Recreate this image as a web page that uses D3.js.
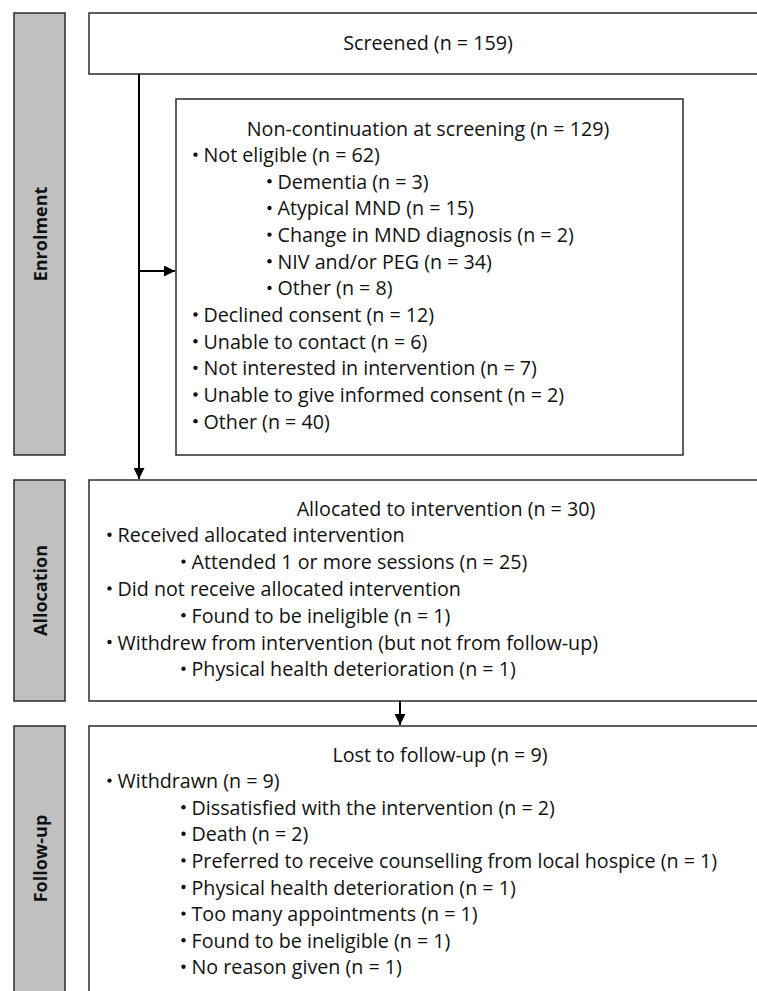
<!DOCTYPE html>
<html>
<head>
<meta charset="utf-8">
<script src="https://cdn.jsdelivr.net/npm/d3@7"></script>
<style>
  body { margin: 0; background: #fff; }
  svg { display: block; }
  text { font-family: "Open Sans", Lato, sans-serif; fill: #111; }
</style>
</head>
<body>
<script>
// stage labels on the left
const stages = ['Enrolment', 'Allocation', 'Follow-up'];

const screenedText = 'Screened (n = 159)';

const exclusionHeader = 'Non-continuation at screening (n = 129)';
const exclusionItems = [
    'Not eligible (n = 62)',
    'Dementia (n = 3)',
    'Atypical MND (n = 15)',
    'Change in MND diagnosis (n = 2)',
    'NIV and/or PEG (n = 34)',
    'Other (n = 8)',
    'Declined consent (n = 12)',
    'Unable to contact (n = 6)',
    'Not interested in intervention (n = 7)',
    'Unable to give informed consent (n = 2)',
    'Other (n = 40)'
];
const exclusionLevels = [1, 2, 2, 2, 2, 2, 1, 1, 1, 1, 1];

const allocationHeader = 'Allocated to intervention (n = 30)';
const allocationItems = [
    'Received allocated intervention',
    'Attended 1 or more sessions (n = 25)',
    'Did not receive allocated intervention',
    'Found to be ineligible (n = 1)',
    'Withdrew from intervention (but not from follow-up)',
    'Physical health deterioration (n = 1)'
];
const allocationLevels = [1, 2, 1, 2, 1, 2];

const followupHeader = 'Lost to follow-up (n = 9)';
const followupItems = [
    'Withdrawn (n = 9)',
    'Dissatisfied with the intervention (n = 2)',
    'Death (n = 2)',
    'Preferred to receive counselling from local hospice (n = 1)',
    'Physical health deterioration (n = 1)',
    'Too many appointments (n = 1)',
    'Found to be ineligible (n = 1)',
    'No reason given (n = 1)'
];
const followupLevels = [1, 2, 2, 2, 2, 2, 2, 2];

const width = 757;
const height = 991;
const fontSize = 19.7;

const svg = d3.select('body')
    .append('svg')
    .attr('width', width)
    .attr('height', height);

svg.append('defs')
    .append('marker')
    .attr('id', 'arrow')
    .attr('viewBox', '0 0 10 10')
    .attr('refX', 10)
    .attr('refY', 5)
    .attr('markerWidth', 5.5)
    .attr('markerHeight', 5.5)
    .attr('markerUnits', 'strokeWidth')
    .attr('orient', 'auto')
    .append('path')
    .attr('d', 'M0,0 L10,5 L0,10 Z')
    .attr('fill', '#000');

// side bars
const bars = [
    { y0: 13, y1: 455 },
    { y0: 480, y1: 701 },
    { y0: 726, y1: 1010 }
];

svg.selectAll('rect.stage')
    .data(stages)
    .enter()
    .append('rect')
    .attr('class', 'stage')
    .attr('x', 14)
    .attr('y', (d, i) => bars[i].y0)
    .attr('width', 51)
    .attr('height', (d, i) => bars[i].y1 - bars[i].y0)
    .attr('fill', '#c0c0c0')
    .attr('stroke', '#2b2b2b')
    .attr('stroke-width', 1.5);

svg.selectAll('text.stage')
    .data(stages)
    .enter()
    .append('text')
    .attr('class', 'stage')
    .attr('transform', (d, i) => `translate(40, ${(bars[i].y0 + Math.min(bars[i].y1, 991)) / 2}) rotate(-90)`)
    .attr('text-anchor', 'middle')
    .attr('dominant-baseline', 'central')
    .style('font-weight', 'bold')
    .style('font-size', '18px')
    .text(d => d);

// boxes
function box(x, y, w, h) {
    svg.append('rect')
        .attr('x', x)
        .attr('y', y)
        .attr('width', w)
        .attr('height', h)
        .attr('fill', '#fff')
        .attr('stroke', '#2b2b2b')
        .attr('stroke-width', 1.5);
}

box(89, 13, 760, 61);
box(176, 99, 507, 356);
box(89, 480, 760, 221);
box(89, 726, 760, 300);

// arrows
function arrow(x1, y1, x2, y2) {
    svg.append('line')
        .attr('x1', x1).attr('y1', y1)
        .attr('x2', x2).attr('y2', y2)
        .attr('stroke', '#000')
        .attr('stroke-width', 2)
        .attr('marker-end', 'url(#arrow)');
}

arrow(139, 74, 139, 479);
arrow(139, 271, 175, 271);
arrow(400, 701, 400, 725);

// text blocks
function block(header, cx, hy, items, levels, x1, x2, step) {
    const y = d3.scaleLinear().domain([0, 1]).range([hy, hy + step]);
    const g = svg.append('g').style('font-size', fontSize + 'px');

    g.append('text')
        .attr('x', cx)
        .attr('y', y(0))
        .attr('text-anchor', 'middle')
        .attr('dominant-baseline', 'central')
        .text(header);

    const rows = g.selectAll('g.row')
        .data(items)
        .enter()
        .append('g')
        .attr('class', 'row')
        .attr('transform', (d, i) => `translate(${levels[i] === 1 ? x1 : x2}, ${y(i + 1)})`);

    rows.append('circle')
        .attr('cx', 2.5)
        .attr('cy', 0)
        .attr('r', 2.2)
        .attr('fill', '#111');

    rows.append('text')
        .attr('x', 10.5)
        .attr('dominant-baseline', 'central')
        .text(d => d);
}

svg.append('text')
    .attr('x', 428)
    .attr('y', 42)
    .attr('text-anchor', 'middle')
    .attr('dominant-baseline', 'central')
    .style('font-size', fontSize + 'px')
    .text(screenedText);

block(exclusionHeader, 428, 128, exclusionItems, exclusionLevels, 193, 267, 26.65);
block(allocationHeader, 446, 508, allocationItems, allocationLevels, 107, 181, 26.8);
block(followupHeader, 440, 754, followupItems, followupLevels, 107, 181, 26.6);
</script>
</body>
</html>
